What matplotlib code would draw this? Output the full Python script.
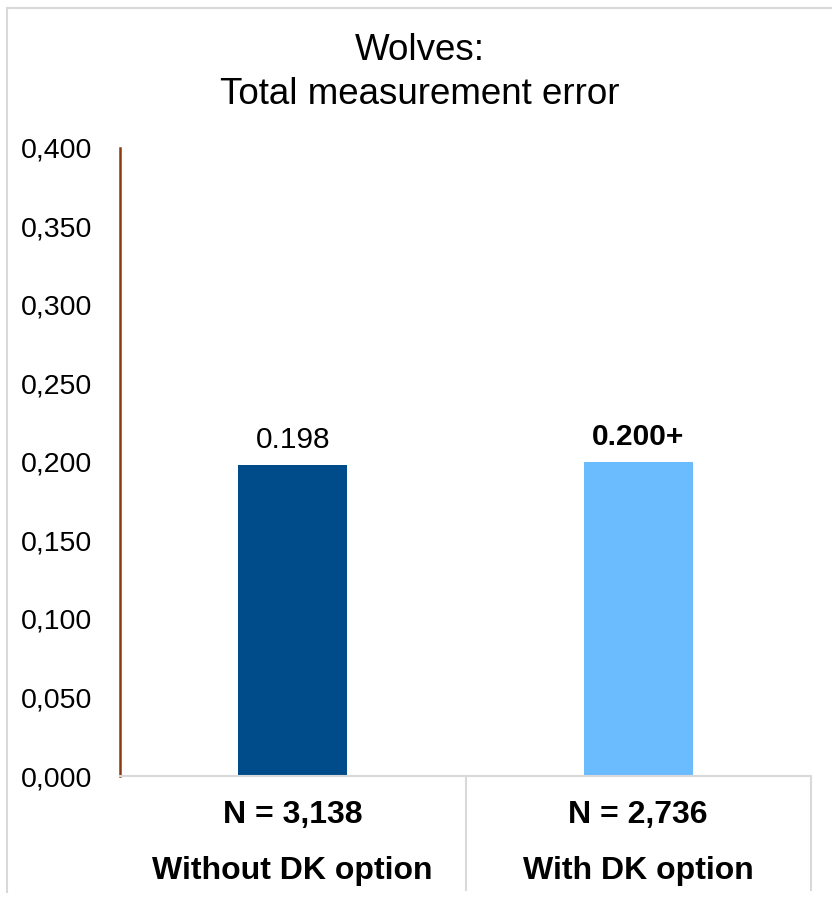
import matplotlib
matplotlib.use("Agg")
import matplotlib.pyplot as plt
from matplotlib.transforms import blended_transform_factory
from matplotlib.lines import Line2D
from matplotlib.ticker import FuncFormatter

plt.rcParams['font.family'] = ['Liberation Sans', 'DejaVu Sans']

categories = ["Without DK option", "With DK option"]
n_labels = ["N = 3,138", "N = 2,736"]
values = [0.198, 0.200]
value_labels = ["0.198", "0.200+"]
value_weights = ["normal", "bold"]
colors = ["#004C8A", "#6BBBFF"]
yticks = [0.0, 0.05, 0.10, 0.15, 0.20, 0.25, 0.30, 0.35, 0.40]

W, H = 832, 901
fig = plt.figure(figsize=(W / 100, H / 100), dpi=100)
ax_l, ax_r, ax_t, ax_b = 120, 811, 148, 776
ax = fig.add_axes([ax_l / W, 1 - ax_b / H, (ax_r - ax_l) / W, (ax_b - ax_t) / H])

x = list(range(len(categories)))
ax.bar(x, values, width=0.315, color=colors, zorder=2)
ax.set_xlim(-0.5, len(categories) - 0.5)
ax.set_ylim(0, 0.4)
ax.set_yticks(yticks)
ax.yaxis.set_major_formatter(FuncFormatter(lambda v, p: f"{v:.3f}".replace(".", ",")))
ax.tick_params(axis='y', length=0, pad=20, labelsize=20.5, labelcolor='black')
ax.set_xticks([])

for s in ['top', 'right']:
    ax.spines[s].set_visible(False)
ax.spines['left'].set_color('#8B3A10')
ax.spines['left'].set_linewidth(1.8)
ax.spines['bottom'].set_color('#d9d9d9')
ax.spines['bottom'].set_linewidth(1.5)

for xi, v, lab, wt in zip(x, values, value_labels, value_weights):
    ax.annotate(lab, (xi, v), xytext=(0, 8), textcoords='offset points',
                ha='center', va='bottom', fontsize=21.5, fontweight=wt)

trans = blended_transform_factory(ax.transData, ax.transAxes)
axh = ax_b - ax_t
bottom_frac = -(890 - ax_b) / axh
for xb in [i + 0.5 for i in x]:
    ax.add_line(Line2D([xb, xb], [0, bottom_frac], transform=trans, color='#d9d9d9',
                       lw=1.5, clip_on=False))

for xi, nl, cat in zip(x, n_labels, categories):
    ax.text(xi, -(815 - ax_b) / axh, nl, transform=trans, ha='center', va='center',
            fontsize=23, fontweight='bold')
    ax.text(xi, -(871 - ax_b) / axh, cat, transform=trans, ha='center', va='center',
            fontsize=23, fontweight='bold')

fig.text(420 / W, 1 - 50 / H, "Wolves:", ha='center', va='center', fontsize=26.5)
fig.text(420 / W, 1 - 94 / H, "Total measurement error", ha='center', va='center', fontsize=26.5)

# outer chart border (left and top visible)
fig.add_artist(Line2D([7 / W, 7 / W], [1 - 8 / H, 1 - 892 / H], transform=fig.transFigure,
                      color='#d9d9d9', lw=1.5))
fig.add_artist(Line2D([7 / W, 1], [1 - 8 / H, 1 - 8 / H], transform=fig.transFigure,
                      color='#d9d9d9', lw=1.5))

fig.savefig("out.png", dpi=100)
